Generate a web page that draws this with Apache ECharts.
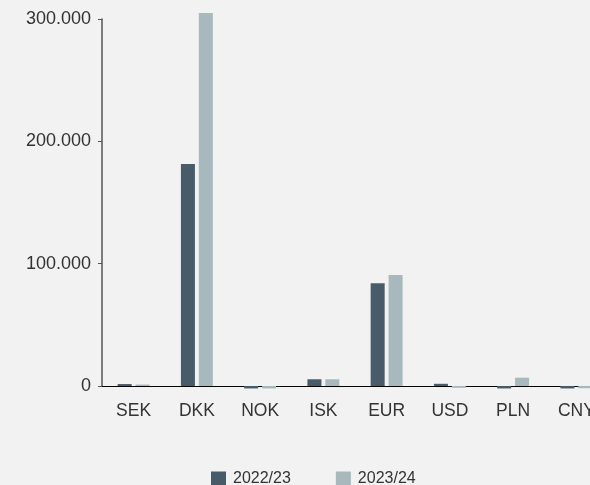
<!DOCTYPE html>
<html>
<head>
<meta charset="utf-8">
<script src="https://cdn.jsdelivr.net/npm/echarts@6/dist/echarts.min.js"></script>
<style>
html,body{margin:0;padding:0;background:#f2f2f2;overflow:hidden;width:590px;height:485px;}
#c{width:608px;height:485px;}
</style>
</head>
<body>
<div id="c"></div>
<script>
const categories = ['SEK','DKK','NOK','ISK','EUR','USD','PLN','CNY'];
const series2022 = [1600, 181500, -2000, 5500, 84000, 1800, -2000, -2000];
const series2023 = [1200, 305000, -2000, 5500, 90800, -1500, 6800, -1800];
const seriesNames = ['2022/23','2023/24'];
const yTicks = [0, 100000, 200000, 300000];

const chart = echarts.init(document.getElementById('c'), null, {renderer:'canvas'});
const font = 'Liberation Sans, Arial, Helvetica, sans-serif';
chart.setOption({
  backgroundColor:'#f2f2f2',
  animation:false,
  textStyle:{fontFamily:font},
  grid:{left:102, right:0, top:19, bottom:99, containLabel:false},
  legend:{
    data:seriesNames, left:206, top:466, itemWidth:15, itemHeight:15, itemGap:45,
    icon:'rect',
    textStyle:{fontSize:16, color:'#333', fontFamily:font, padding:[0,0,0,2]}
  },
  xAxis:{
    type:'category', data:categories,
    axisLine:{lineStyle:{color:'#000', width:1}},
    axisTick:{show:false},
    axisLabel:{fontSize:17.5, color:'#333', margin:16, fontFamily:font}
  },
  yAxis:{
    type:'value', min:yTicks[0], max:yTicks[yTicks.length-1], interval:100000,
    axisLine:{show:true, lineStyle:{color:'#555', width:1.5}},
    axisTick:{show:true, length:4, lineStyle:{color:'#555'}},
    splitLine:{show:false},
    axisLabel:{fontSize:18, color:'#333', margin:11, fontFamily:font,
      formatter:v=> v===0 ? '0' : v.toString().replace(/\B(?=(\d{3})+(?!\d))/g,'.')}
  },
  series:[
    {name:seriesNames[0], type:'bar', data:series2022, barWidth:14, barGap:'28%', clip:false,
     itemStyle:{color:'#485b68'}},
    {name:seriesNames[1], type:'bar', data:series2023, barWidth:14, clip:false,
     itemStyle:{color:'#a7b9bc'}}
  ]
});
</script>
</body>
</html>
